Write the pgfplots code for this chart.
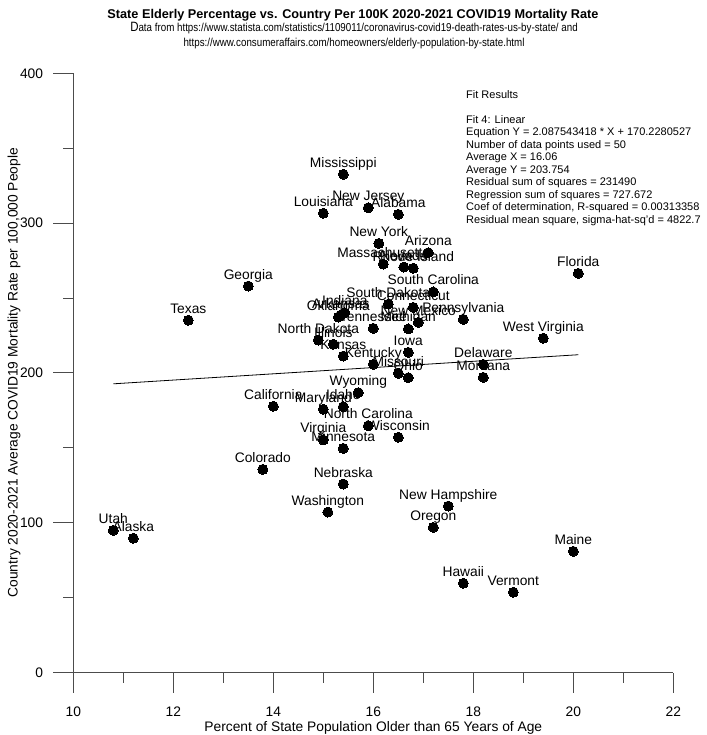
\documentclass[border=0pt]{standalone}
\usepackage{fontspec}
\setmainfont{Liberation Sans}
\usepackage{graphicx}
\usepackage{pgfplots}
\pgfplotsset{compat=1.18}
\begin{document}
\begin{tikzpicture}[x=1pt,y=1pt]
\useasboundingbox (0,0) rectangle (706,735);
\begin{axis}[
  at={(73.3pt,62.3pt)}, anchor=south west,
  scale only axis, width=600pt, height=599.4pt,
  xmin=10, xmax=22, ymin=0, ymax=400,
  enlargelimits=false, clip=false,
  axis lines=left, axis line style={-, black!70, line width=1pt},
  tick align=outside, major tick length=20pt, minor tick length=10pt,
  xtick={10,12,...,22}, ytick={0,100,...,400},
  minor x tick num=1, minor y tick num=1,
  every tick/.style={black!70, line width=1pt},
  tick label style={font=\fontsize{13.8}{14}\selectfont},
  /pgf/number format/assume math mode=true,
  xticklabel style={anchor=north, inner sep=0pt, yshift=-14pt},
  yticklabel style={anchor=east, inner sep=0pt, xshift=-10pt},
]
\addplot[only marks, mark=*, mark size=5pt, mark options={fill=black, draw=black, line width=0pt},
  nodes near coords, point meta=explicit symbolic,
  every node near coord/.append style={font=\fontsize{13.8}{14}\selectfont, anchor=base, inner sep=0pt, yshift=7pt, text=black}]
 table[col sep=comma, row sep=\\, x=x, y=y, meta=label]{
x,y,label\\
15.4,332.6,Mississippi\\
15.0,306.6,Louisiana\\
15.9,310.3,New Jersey\\
16.5,305.9,Alabama\\
16.11,286.5,New York\\
17.1,280.3,Arizona\\
16.2,272.7,Massachusetts\\
16.61,270.7,Nevada\\
16.8,269.9,Rhode Island\\
20.1,266.5,Florida\\
13.5,258.0,Georgia\\
17.2,254.1,South Carolina\\
16.3,246.0,South Dakota\\
16.8,243.8,Connecticut\\
12.3,235.2,Texas\\
15.43,240.2,Indiana\\
15.35,238.7,Arkansas\\
15.3,237.3,Oklahoma\\
16.0,229.8,Tennessee\\
16.9,233.8,New Mexico\\
17.8,235.8,Pennsylvania\\
16.7,229.4,Michigan\\
14.9,222.0,North Dakota\\
15.2,219.2,Illinois\\
15.4,211.3,Kansas\\
16.7,213.8,Iowa\\
16.0,205.8,Kentucky\\
16.5,199.8,Missouri\\
16.7,196.9,Ohio\\
18.2,205.8,Delaware\\
18.2,197.1,Montana\\
19.4,223.2,West Virginia\\
15.7,186.9,Wyoming\\
14.0,177.8,California\\
15.4,177.5,Idaho\\
15.0,175.8,Maryland\\
15.9,164.8,North Carolina\\
15.0,155.3,Virginia\\
16.5,157.1,Wisconsin\\
15.4,149.7,Minnesota\\
13.79,135.7,Colorado\\
15.4,125.9,Nebraska\\
15.09,107.2,Washington\\
17.5,111.2,New Hampshire\\
17.2,97.0,Oregon\\
10.8,95.0,Utah\\
11.2,89.7,Alaska\\
20.0,81.0,Maine\\
17.8,59.7,Hawaii\\
18.8,53.7,Vermont\\
};
\addplot[black, line width=0.8pt] coordinates {(10.8,192.77) (20.1,212.19)};
\end{axis}
\node[anchor=base, font=\bfseries\fontsize{12.7}{14}\selectfont] at (353,716) {State Elderly Percentage vs. Country Per 100K 2020-2021 COVID19 Mortality Rate};
\node[anchor=base, inner sep=0pt] at (354,703) {\scalebox{0.85}[1]{\fontsize{11.5}{12}\selectfont{\fontsize{13.5}{13}\selectfont D}ata from https://www.statista.com/statistics/1109011/coronavirus-covid19-death-rates-us-by-state/ and}};
\node[anchor=base, inner sep=0pt] at (354,688) {\scalebox{0.85}[1]{\fontsize{11.5}{12}\selectfont https://www.consumeraffairs.com/homeowners/elderly-population-by-state.html}};
\node[anchor=base, inner sep=0pt, font=\fontsize{13.8}{14}\selectfont] at (373.3,3) {Percent of State Population Older than 65 Years of Age};
\node[anchor=base, inner sep=0pt, rotate=90, font=\fontsize{13.8}{14}\selectfont] at (17.5,362.3) {Country 2020-2021 Average COVID19 Mortality Rate per 100,000 People};
\node[anchor=north west, inner sep=0pt, align=left, font=\fontsize{11}{12.5}\selectfont] at (466,645) {Fit Results\\[12.5pt]Fit 4: Linear\\Equation Y = 2.087543418 * X + 170.2280527\\Number of data points used = 50\\Average X = 16.06\\Average Y = 203.754\\Residual sum of squares = 231490\\Regression sum of squares = 727.672\\Coef of determination, R-squared = 0.00313358\\Residual mean square, sigma-hat-sq'd = 4822.7};
\end{tikzpicture}
\end{document}
